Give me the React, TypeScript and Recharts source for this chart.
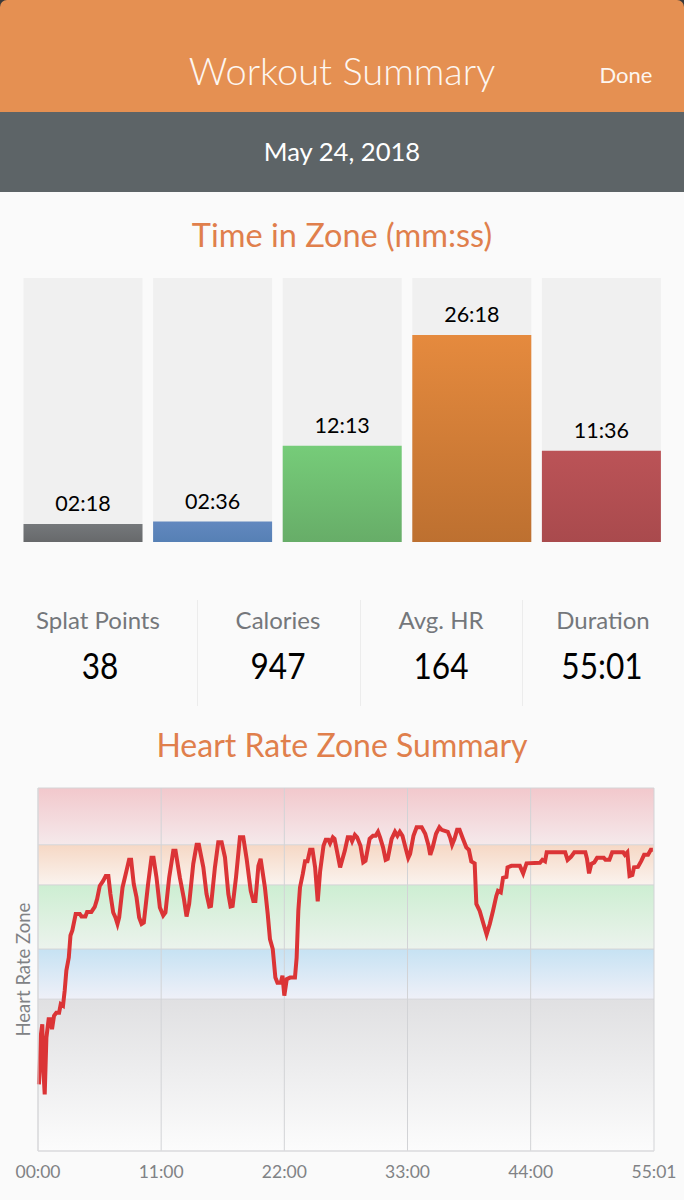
import React from "react"
import { BarChart, Bar, Cell, LabelList, LineChart, Line, XAxis, YAxis, ReferenceArea, ReferenceLine } from "recharts"

const FONT = "Lato, 'Noto Sans', sans-serif"

// time in zone, seconds
const zoneNames = ["grey", "blue", "green", "orange", "red"]
const zoneSeconds = [138, 156, 733, 1578, 696]
const zoneLabels = ["02:18", "02:36", "12:13", "26:18", "11:36"]
const zoneTop = ["#75787b", "#6288bf", "#76cc79", "#e58a3e", "#bb5357"]
const zoneBottom = ["#67696b", "#5680b5", "#67ad68", "#bd7030", "#a94a4d"]

const statLabels = ["Splat Points", "Calories", "Avg. HR", "Duration"]
const statValues = ["38", "947", "164", "55:01"]

// heart rate trace: seconds, % of max
const hrTime = [
  5, 16, 23, 27, 36, 45, 57, 66, 75, 86, 98, 113, 122, 134, 143, 152, 165, 174, 184, 202, 224, 233, 254, 263, 286, 304,
  317, 331, 349, 363, 377, 388, 403, 415, 426, 435, 453, 474, 488, 499, 513, 528, 542, 555, 567, 590, 608, 619, 635,
  653, 671, 683, 703, 725, 737, 760, 782, 796, 810, 832, 850, 862, 886, 903, 918, 927, 948, 966, 984, 1002, 1020, 1032,
  1043, 1061, 1082, 1100, 1118, 1140, 1154, 1165, 1181, 1193, 1216, 1231, 1243, 1258, 1272, 1283, 1301, 1310, 1320,
  1333, 1351, 1377, 1386, 1395, 1404, 1419, 1431, 1444, 1458, 1471, 1485, 1499, 1512, 1530, 1542, 1556, 1565, 1580,
  1589, 1605, 1619, 1644, 1660, 1674, 1683, 1698, 1710, 1728, 1743, 1755, 1777, 1795, 1809, 1822, 1833, 1849, 1863,
  1874, 1895, 1913, 1926, 1939, 1953, 1971, 1984, 1994, 2012, 2029, 2056, 2075, 2093, 2102, 2115, 2133, 2151, 2163,
  2196, 2208, 2219, 2232, 2246, 2259, 2277, 2295, 2309, 2322, 2340, 2349, 2367, 2385, 2404, 2421, 2438, 2456, 2465,
  2480, 2492, 2510, 2516, 2537, 2582, 2600, 2618, 2690, 2703, 2717, 2726, 2825, 2838, 2856, 2874, 2933, 2942, 2953,
  2965, 2981, 2996, 3032, 3041, 3062, 3077, 3136, 3145, 3158, 3170, 3185, 3194, 3215, 3233, 3248, 3269, 3284, 3295,
]
const hrValue = [
  43.0, 53.0, 55.0, 47.0, 41.0, 52.3, 56.0, 56.0, 54.0, 56.7, 57.3, 57.3, 59.0, 58.7, 61.7, 65.7, 68.3, 72.7, 73.7,
  77.0, 77.0, 76.5, 76.5, 77.4, 77.4, 78.4, 80.0, 82.6, 83.6, 84.6, 84.6, 81.0, 77.3, 76.3, 75.0, 76.3, 82.3, 85.6,
  87.8, 87.8, 83.0, 80.3, 76.3, 75.0, 75.3, 83.0, 88.2, 88.2, 84.3, 78.3, 76.7, 77.3, 84.3, 89.6, 89.6, 84.3, 80.0,
  76.5, 79.0, 87.0, 90.8, 90.8, 86.3, 81.0, 78.5, 78.6, 86.3, 91.3, 91.3, 88.3, 81.0, 78.5, 78.6, 84.3, 92.3, 92.3,
  88.0, 81.6, 79.6, 79.6, 86.6, 88.0, 82.3, 77.0, 72.0, 70.0, 64.3, 63.3, 63.3, 64.7, 60.7, 64.0, 64.3, 64.3, 68.3,
  77.6, 82.3, 85.0, 87.5, 87.5, 89.8, 89.8, 86.3, 79.5, 85.6, 90.6, 91.8, 91.8, 91.1, 92.3, 92.0, 89.0, 86.3, 89.6,
  92.3, 92.3, 91.5, 92.8, 92.3, 90.6, 87.3, 87.6, 92.0, 92.6, 92.6, 93.4, 92.3, 90.3, 87.8, 88.0, 92.0, 93.4, 92.6,
  93.4, 92.6, 90.0, 88.2, 89.0, 92.6, 94.3, 94.3, 93.0, 90.6, 88.8, 90.3, 93.0, 94.3, 93.8, 93.4, 92.3, 90.8, 92.0,
  93.8, 93.8, 92.0, 90.3, 89.8, 87.5, 87.1, 79.0, 77.6, 75.3, 72.9, 75.0, 77.6, 80.6, 81.6, 81.3, 84.2, 84.4, 86.3,
  86.6, 86.6, 85.1, 87.1, 87.2, 87.8, 87.5, 89.3, 89.3, 87.8, 88.4, 89.3, 89.3, 88.0, 85.1, 87.0, 87.3, 88.2, 88.2,
  87.8, 87.8, 89.3, 89.3, 88.8, 89.3, 84.6, 84.8, 86.3, 86.4, 87.6, 88.8, 88.8, 89.8, 89.8,
]

const timeTicks = [0, 660, 1320, 1980, 2640, 3301]
const timeTickLabels = ["00:00", "11:00", "22:00", "33:00", "44:00", "55:01"]

// zone boundaries, % of max
const hrFloor = 29.7
const hrCeil = 102.14
const bandFrom = [29.7, 60, 70, 82.8, 90.8]
const bandTo = [60, 70, 82.8, 90.8, 102.14]
const bandTop = ["#e0e0e2", "#c6e2f3", "#cdeed2", "#f6d8c5", "#f2c8cc"]
const bandBottom = ["#fcfcfc", "#eff0f8", "#ecf3ed", "#faf3ee", "#f5e9eb"]

const barData = zoneNames.map((name, i) => ({ name, seconds: zoneSeconds[i], label: zoneLabels[i] }))
const hrData = hrTime.map((t, i) => ({ t, hr: hrValue[i] }))

const abs = (left: number, top: number, width: number, height: number): React.CSSProperties => ({
  position: "absolute",
  left,
  top,
  width,
  height,
})

const centered = (cx: number, cy: number, size: number, color: string, weight = 400): React.CSSProperties => ({
  position: "absolute",
  left: cx - 200,
  top: cy - 30,
  width: 400,
  height: 60,
  lineHeight: "60px",
  textAlign: "center",
  fontSize: size,
  fontWeight: weight,
  color,
  whiteSpace: "nowrap",
})

const statX = [98, 278, 441, 603]
const statValueX = [100, 278, 441, 602]
const dividerX = [197, 360, 522]

export default function App() {
  return (
    <div style={{ ...abs(0, 0, 684, 1200), background: "#fafafa", fontFamily: FONT, overflow: "hidden" }}>
      <div style={{ ...abs(0, 0, 684, 12), background: "#3a3a3a" }} />
      <div style={{ ...abs(0, 0, 684, 112), background: "#e59052", borderRadius: "7px 7px 0 0" }} />
      <div style={{ ...abs(0, 112, 684, 80), background: "#5d6467" }} />
      <div style={centered(342, 70, 38, "#fdf6f0", 300)}>Workout Summary</div>
      <div style={centered(626, 75, 22, "#fdf6f0")}>Done</div>
      <div style={centered(342, 151, 25.6, "#ffffff")}>May 24, 2018</div>
      <div style={centered(342, 235, 32.5, "#e07f4c")}>Time in Zone (mm:ss)</div>

      <div style={abs(18, 268, 648, 280)}>
        <BarChart
          width={648}
          height={280}
          data={barData}
          margin={{ top: 10, right: 0, bottom: 6, left: 0 }}
          barCategoryGap={5.5}
        >
          <defs>
            {zoneNames.map((name, i) => (
              <linearGradient key={name} id={`bar-${name}`} x1="0" y1="0" x2="0" y2="1">
                <stop offset="0%" stopColor={zoneTop[i]} />
                <stop offset="100%" stopColor={zoneBottom[i]} />
              </linearGradient>
            ))}
          </defs>
          <XAxis dataKey="name" hide />
          <YAxis hide domain={[0, 2012]} />
          <Bar dataKey="seconds" isAnimationActive={false} background={{ fill: "#f0f0f0" }}>
            {zoneNames.map((name) => (
              <Cell key={name} fill={`url(#bar-${name})`} />
            ))}
            <LabelList dataKey="label" position="top" offset={13} fill="#000" fontSize={21.5} fontFamily={FONT} />
          </Bar>
        </BarChart>
      </div>

      {statLabels.map((label, i) => (
        <React.Fragment key={label}>
          <div style={centered(statX[i], 620, 24, "#74777b")}>{label}</div>
          <div style={{ ...centered(statValueX[i], 665, 34, "#000"), transform: "scale(0.93, 1.06)" }}>
            {statValues[i]}
          </div>
        </React.Fragment>
      ))}
      {dividerX.map((x) => (
        <div key={x} style={{ ...abs(x, 600, 1, 106), background: "#ececec" }} />
      ))}

      <div style={centered(342, 745, 32, "#e07f4c")}>Heart Rate Zone Summary</div>

      <div style={abs(0, 778, 684, 422)}>
        <LineChart width={684} height={422} data={hrData} margin={{ top: 10, right: 30, bottom: 19, left: 0 }}>
          <defs>
            {bandTop.map((c, i) => (
              <linearGradient key={c} id={`band-${i}`} x1="0" y1="0" x2="0" y2="1">
                <stop offset="0%" stopColor={c} />
                <stop offset="100%" stopColor={bandBottom[i]} />
              </linearGradient>
            ))}
          </defs>
          {bandFrom.map((from, i) => (
            <ReferenceArea
              key={from}
              x1={0}
              x2={3301}
              y1={from}
              y2={bandTo[i]}
              fill={`url(#band-${i})`}
              fillOpacity={1}
              stroke="none"
              ifOverflow="hidden"
            />
          ))}
          {bandFrom.slice(1).concat(hrCeil).map((v) => (
            <ReferenceLine key={v} y={v} stroke="#d4d4d6" strokeWidth={1} />
          ))}
          {timeTicks.map((t) => (
            <ReferenceLine key={t} x={t} stroke="#d2d3d6" strokeWidth={1} />
          ))}
          <XAxis
            type="number"
            dataKey="t"
            domain={[0, 3301]}
            ticks={timeTicks}
            interval={0}
            tickFormatter={(t) => timeTickLabels[timeTicks.indexOf(t)]}
            tick={{ fill: "#808285", fontSize: 17.5, fontFamily: FONT }}
            tickLine={false}
            tickMargin={9}
            axisLine={{ stroke: "#dadadc", strokeWidth: 1.5 }}
          />
          <YAxis
            type="number"
            domain={[hrFloor, hrCeil]}
            width={38}
            tick={false}
            tickLine={false}
            axisLine={{ stroke: "#dadadc", strokeWidth: 1 }}
            label={{
              value: "Heart Rate Zone",
              angle: -90,
              position: "insideLeft",
              dx: 18,
              dy: 67,
              fill: "#808285",
              fontSize: 18.5,
              fontFamily: FONT,
            }}
          />
          <Line
            type="linear"
            dataKey="hr"
            stroke="#db3436"
            strokeWidth={4}
            dot={false}
            isAnimationActive={false}
          />
        </LineChart>
      </div>
    </div>
  )
}
